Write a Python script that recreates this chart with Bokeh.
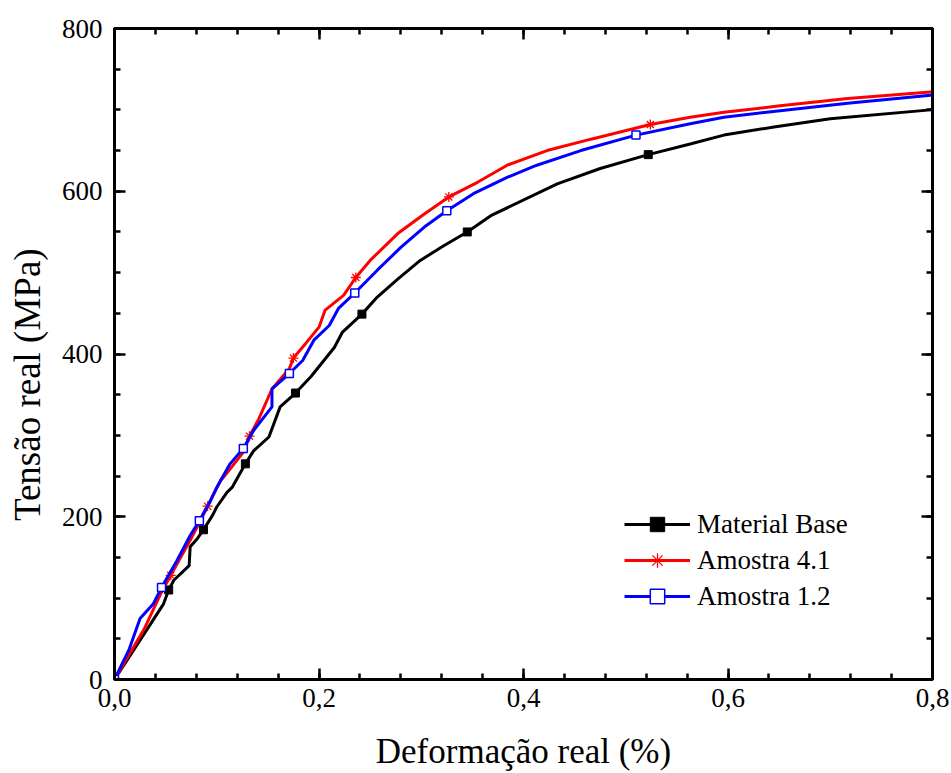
import math
from bokeh.plotting import figure
from bokeh.layouts import row
from bokeh.models import (LinearAxis, SingleIntervalTicker, CustomJSTickFormatter,
                          Range1d, Legend, LegendItem)
from bokeh.core.properties import value
from bokeh.embed import file_html
from bokeh.resources import INLINE

# True stress-strain curves
base_strain = [0, 0.029, 0.048, 0.053, 0.058, 0.073, 0.074, 0.081, 0.087, 0.096, 0.100,
               0.110, 0.115, 0.128, 0.136, 0.151, 0.162, 0.177, 0.192, 0.215, 0.223,
               0.242, 0.257, 0.277, 0.299, 0.322, 0.345, 0.368, 0.433, 0.475, 0.522,
               0.563, 0.596, 0.645, 0.700, 0.798, 0.800]
base_stress = [0, 56, 93, 110, 122, 140, 163, 173, 184, 202, 212,
               230, 236, 265, 281, 298, 335, 352, 372, 408, 427,
               449, 470, 492, 515, 533, 550, 570, 609, 628, 645,
               658, 669, 679, 689, 700, 701]
base_marks = [3, 8, 13, 17, 21, 26, 30]

a41_strain = [0, 0.029, 0.045, 0.055, 0.074, 0.084, 0.091, 0.104, 0.107, 0.127, 0.132,
              0.141, 0.154, 0.171, 0.175, 0.187, 0.200, 0.206, 0.224, 0.236, 0.250,
              0.277, 0.303, 0.327, 0.355, 0.384, 0.423, 0.466, 0.524, 0.563, 0.596,
              0.651, 0.717, 0.798, 0.800]
a41_stress = [0, 62, 105, 128, 171, 195, 213, 245, 249, 281, 299,
              320, 357, 382, 395, 413, 433, 454, 472, 494, 515,
              548, 572, 593, 611, 632, 650, 664, 682, 691, 697,
              705, 714, 722, 722]
a41_marks = [3, 6, 10, 14, 19, 23, 28]

a12_strain = [0, 0.014, 0.025, 0.038, 0.046, 0.061, 0.074, 0.083, 0.094, 0.100, 0.113,
              0.126, 0.136, 0.154, 0.154, 0.171, 0.184, 0.195, 0.210, 0.219, 0.235,
              0.257, 0.280, 0.303, 0.325, 0.351, 0.384, 0.413, 0.456, 0.510, 0.563,
              0.596, 0.651, 0.717, 0.798, 0.800]
a12_stress = [0, 36, 75, 93, 113, 146, 177, 195, 220, 236, 265,
              284, 306, 335, 357, 376, 392, 417, 435, 456, 475,
              503, 531, 556, 576, 597, 617, 632, 650, 669, 683,
              691, 699, 708, 718, 718]
a12_marks = [0, 4, 7, 11, 15, 20, 24, 29]

series_names = ["Material Base", "Amostra 4.1", "Amostra 1.2"]
x_title = "Deformação real (%)"
y_title = "Tensão real (MPa)"
x_ticks_step = 0.2
y_ticks_step = 200

FONT = "Liberation Serif"
TITLE_W = 50   # width of the strip holding the vertical axis title

# Narrow strip on the left carrying the rotated y-axis title
side = figure(width=TITLE_W, height=773, output_backend="svg", toolbar_location=None,
              x_range=Range1d(0, TITLE_W), y_range=Range1d(0, 773),
              min_border=0, x_axis_type=None, y_axis_type=None)
side.grid.visible = False
side.outline_line_color = None
side.text(x=[27], y=[350], text=[y_title], angle=math.pi / 2,
          text_font=value(FONT), text_font_size="37px", text_color="black",
          text_align="center", text_baseline="middle")

p = figure(width=951 - TITLE_W, height=773, output_backend="svg", toolbar_location=None,
           x_range=Range1d(0, 0.8), y_range=Range1d(0, 800),
           x_axis_label=x_title,
           min_border_left=114 - TITLE_W, min_border_right=19, min_border_top=28,
           min_border_bottom=94)
p.grid.visible = False
p.outline_line_color = "black"
p.outline_line_width = 3
p.background_fill_color = "white"
p.border_fill_color = "white"

p.xaxis.ticker = SingleIntervalTicker(interval=x_ticks_step, num_minor_ticks=5)
p.yaxis.ticker = SingleIntervalTicker(interval=y_ticks_step, num_minor_ticks=4)
p.xaxis.formatter = CustomJSTickFormatter(code="return tick.toFixed(1).replace('.', ',');")

def style_axis(ax, labels=True):
    ax.axis_line_width = 3
    ax.axis_line_color = "black"
    ax.major_tick_in = 11
    ax.major_tick_out = 0
    ax.minor_tick_in = 6
    ax.minor_tick_out = 0
    ax.major_tick_line_width = 2.5
    ax.minor_tick_line_width = 2.5
    ax.major_tick_line_color = "black"
    ax.minor_tick_line_color = "black"
    if labels:
        ax.major_label_text_font = FONT
        ax.major_label_text_font_size = "27px"
        ax.major_label_text_color = "black"
        ax.axis_label_text_font = FONT
        ax.axis_label_text_font_size = "35px"
        ax.axis_label_text_font_style = "normal"
        ax.axis_label_text_color = "black"
    else:
        ax.major_label_text_color = None
        ax.major_label_text_font_size = "1px"
        ax.major_label_standoff = 0

style_axis(p.xaxis[0])
style_axis(p.yaxis[0])
p.xaxis.major_label_standoff = 9
p.xaxis.axis_label_standoff = 22
p.yaxis.major_label_standoff = 12

top = LinearAxis(ticker=SingleIntervalTicker(interval=x_ticks_step, num_minor_ticks=5))
right = LinearAxis(ticker=SingleIntervalTicker(interval=y_ticks_step, num_minor_ticks=4))
style_axis(top, labels=False)
style_axis(right, labels=False)
p.add_layout(top, "above")
p.add_layout(right, "right")

items = []

l1 = p.line(base_strain, base_stress, line_color="black", line_width=3)
m1 = p.scatter([base_strain[i] for i in base_marks], [base_stress[i] for i in base_marks],
               marker="square", size=8, fill_color="black", line_color="black")
items.append(LegendItem(label=series_names[0], renderers=[l1, m1]))

l2 = p.line(a41_strain, a41_stress, line_color="red", line_width=3)
m2 = p.scatter([a41_strain[i] for i in a41_marks], [a41_stress[i] for i in a41_marks],
               marker="asterisk", size=10, line_color="red", line_width=1.3)
items.append(LegendItem(label=series_names[1], renderers=[l2, m2]))

l3 = p.line(a12_strain, a12_stress, line_color="blue", line_width=3)
m3 = p.scatter([a12_strain[i] for i in a12_marks], [a12_stress[i] for i in a12_marks],
               marker="square", size=8, fill_color="white", line_color="blue", line_width=1.5)
items.append(LegendItem(label=series_names[2], renderers=[l3, m3]))

legend = Legend(items=items, location=(510, 65), border_line_color=None,
                background_fill_alpha=0, padding=0, margin=0, spacing=0,
                glyph_width=66, glyph_height=36, label_height=36,
                label_standoff=7, label_text_font=FONT,
                label_text_font_size="27px", label_text_color="black")
p.add_layout(legend)

layout = row(side, p, spacing=0)
open("out.html", "w").write(file_html(layout, INLINE))
